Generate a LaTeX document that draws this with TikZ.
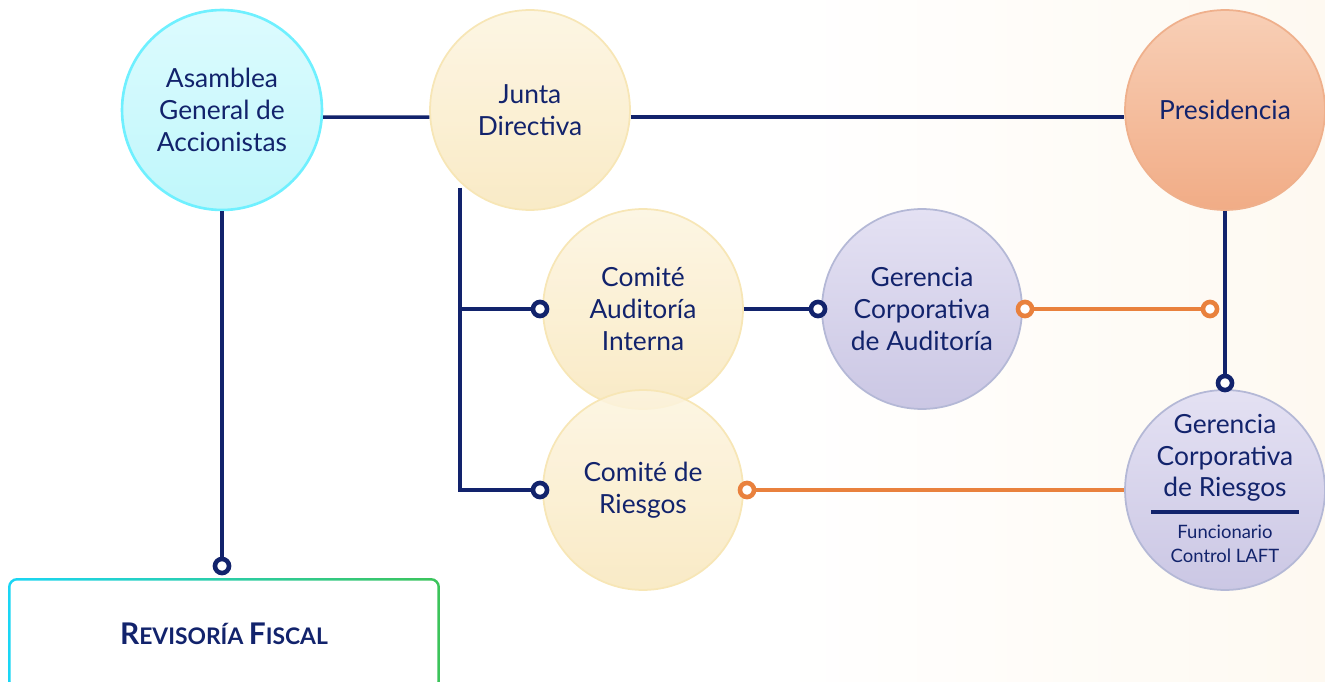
\documentclass[tikz,border=0pt]{standalone}
\usepackage{fontspec}
\setmainfont{Lato}
\usetikzlibrary{positioning}
\definecolor{navy}{HTML}{12236C}
\definecolor{cyanB}{HTML}{6FF0FF}
\definecolor{cyanT}{HTML}{DDFBFE}
\definecolor{cyanF}{HTML}{BFF7FB}
\definecolor{yelB}{HTML}{F7E6B6}
\definecolor{yelT}{HTML}{FCF4DF}
\definecolor{yelF}{HTML}{F8E7BC}
\definecolor{orB}{HTML}{EFB08C}
\definecolor{orT}{HTML}{F8CFB6}
\definecolor{orF}{HTML}{F1AC86}
\definecolor{lavB}{HTML}{B4B8D6}
\definecolor{lavT}{HTML}{E4E1F3}
\definecolor{lavF}{HTML}{CBC7E4}
\definecolor{orl}{HTML}{E9813D}
\definecolor{rfL}{HTML}{1AD6F5}
\definecolor{rfR}{HTML}{3CC45A}
\definecolor{bgc}{HTML}{FEF9F1}

\begin{document}
\begin{tikzpicture}[x=0.02cm,y=-0.02cm,
		circ/.style={circle,minimum size=4cm,inner sep=0pt,align=center,line width=1pt,
			text=navy,font=\fontsize{15}{18}\selectfont},
		agnode/.style={circ,draw=cyanB,line width=1.5pt,top color=cyanT,bottom color=cyanF},
		ynode/.style={circ,draw=yelB,top color=yelT,bottom color=yelF,fill opacity=0.85,text opacity=1},
		onode/.style={circ,draw=orB,top color=orT,bottom color=orF},
		lnode/.style={circ,draw=lavB,top color=lavT,bottom color=lavF},
		txt/.style={align=center,text=navy,inner sep=0pt},
		mk/.style={circle,draw=navy,fill=white,line width=2.6pt,minimum size=8pt,inner sep=0pt},
		omk/.style={mk,draw=orl},
		lnk/.style={draw=navy,line width=2pt},
		olnk/.style={draw=orl,line width=2pt}]
		
		\useasboundingbox (0,0) rectangle (1325,682);
		\clip (0,0) rectangle (1325,682);
		\fill[left color=white,right color=bgc] (780,0) rectangle (1325,682);
		
		% top row
		\node[agnode] (ag) at (222,110) {Asamblea\\General de\\Accionistas};
		\node[ynode] (jd) at (530,110) {Junta\\Directiva};
		\node[onode] (pr) at (1225,110) {Presidencia};
		
		% committees
		\node[ynode] (ca) at (643,309) {Comité\\Auditoría\\Interna};
		\node[ynode] (cr) at (643,490) {Comité de\\Riesgos};
		\node[lnode] (ga) at (922,309) {Gerencia\\Corporativa\\de Auditoría};
		\node[lnode] (gr) at (1225,490) {};
		\node[txt,font=\fontsize{15}{18}\selectfont] (grt) at (1225,458) {Gerencia\\Corporativa\\de Riesgos};
		\node[fill=navy,minimum width=2.96cm,minimum height=2.5pt,inner sep=0pt] (grl) at (1225,512) {};
		\node[txt,font=\fontsize{10.5}{14}\selectfont] (grf) at (1225,544) {Funcionario\\Control LAFT};
		
		% Revisoria
		\node[rounded corners=0.18cm,minimum width=8.64cm,minimum height=2.24cm,left color=rfL,right color=rfR] (rfb) at (224,634) {};
		\node[rounded corners=0.14cm,minimum width=8.54cm,minimum height=2.14cm,fill=white,text=navy,
			font=\bfseries] (rf) at (rfb.center) {\fontsize{17}{18}\selectfont R\fontsize{13}{18}\selectfont EVISORÍA \fontsize{17}{18}\selectfont F\fontsize{13}{18}\selectfont ISCAL};
		
		% markers
		\node[mk] (m0) at (222,566) {};
		\node[mk] (m1) at (540,309) {};
		\node[mk] (m2) at (540,490) {};
		\node[mk] (m3) at (818,309) {};
		\node[mk] (m4) at (1225,383) {};
		\node[omk] (o1) at (1025,309) {};
		\node[omk] (o2) at (1210,309) {};
		\node[omk] (o3) at (747,490) {};
		\coordinate (jv) at (460,188);
		
		\draw[lnk] (ag.-4.6) to (jd.184.6);
		\draw[lnk] (jd.-4.6) to (pr.184.6);
		\draw[lnk] (ag) to (m0);
		\draw[lnk] (jv) |- (m1);
		\draw[lnk] (jv) |- (m2);
		\draw[lnk] (ca) to (m3);
		\draw[lnk] (pr) to (m4);
		\draw[olnk] (o1) to (o2);
		\draw[olnk] (o3) to (gr);
		
	\end{tikzpicture}
\end{document}
